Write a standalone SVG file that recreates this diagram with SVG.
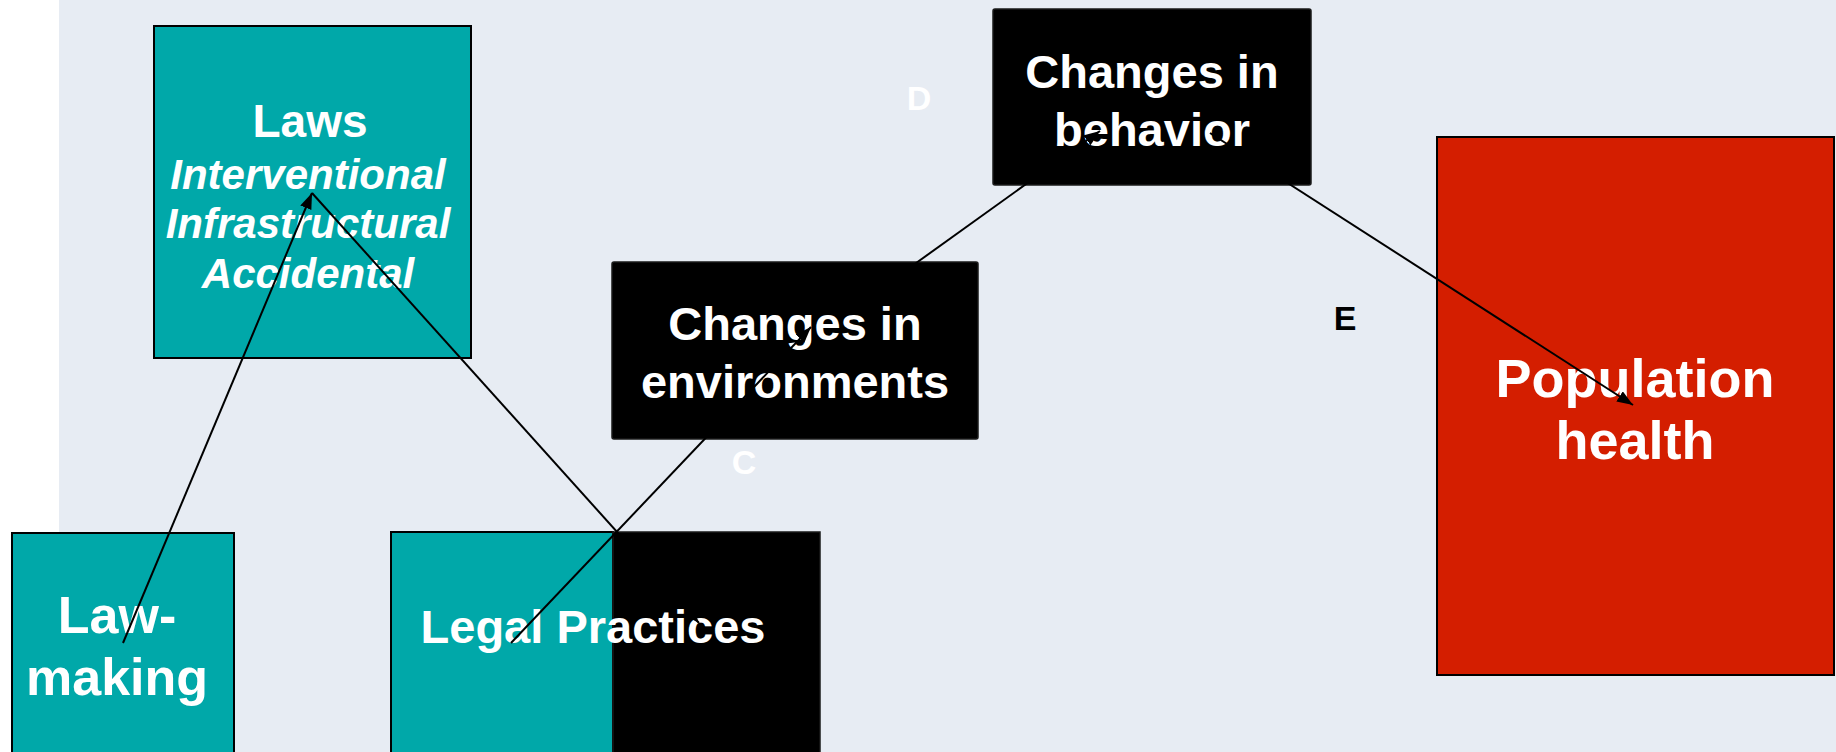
<svg xmlns="http://www.w3.org/2000/svg" width="1836" height="752" viewBox="0 0 1836 752">
<style>
.t{font-family:"Liberation Sans",Arial,sans-serif;font-weight:bold;fill:#fff;text-anchor:middle}
.it{font-style:italic}
.teal{fill:#00A8A9;stroke:#000;stroke-width:2}
.blk{fill:#000;stroke:#1a1a1a;stroke-width:1.5}
.red{fill:#D41E00;stroke:#000;stroke-width:2}
.conn{stroke:#000;stroke-width:2;fill:none}
.lbl{font-family:"Liberation Sans",Arial,sans-serif;font-weight:bold;font-size:34px;text-anchor:middle}
</style>
<defs>
<marker id="arr" markerUnits="userSpaceOnUse" markerWidth="18" markerHeight="14" refX="16" refY="6" orient="auto">
<path d="M0,0 L16,6 L0,12 z" fill="#000"/>
</marker>
</defs>
<rect x="0" y="0" width="1836" height="752" fill="#fff"/>
<rect x="59" y="0" width="1777" height="752" fill="#E7ECF3"/>

<g id="laws">
<rect class="teal" x="154" y="26" width="317" height="332"/>
<text class="t" x="310" y="137" font-size="46">Laws</text>
<text class="t it" x="308" y="189" font-size="42">Interventional</text>
<text class="t it" x="308" y="238" font-size="42">Infrastructural</text>
<text class="t it" x="308" y="288" font-size="42">Accidental</text>
</g>

<g id="lawmaking">
<rect class="teal" x="12" y="533" width="222" height="240"/>
<text class="t" x="117" y="633" font-size="52">Law-</text>
<text class="t" x="117" y="695" font-size="52">making</text>
</g>

<g id="legal-practices">
<rect class="teal" x="391" y="532" width="222" height="240"/>
<rect x="613" y="532" width="207" height="240" fill="#000" stroke="#1a1a1a" stroke-width="1.5"/>
<text class="t" x="593" y="643" font-size="47">Legal Practices</text>
</g>

<g id="environments">
<rect class="blk" x="612" y="262" width="366" height="177" rx="2"/>
<text class="t" x="795" y="340" font-size="47">Changes in</text>
<text class="t" x="795" y="398" font-size="47">environments</text>
</g>

<g id="behavior">
<rect class="blk" x="993" y="9" width="318" height="176" rx="2"/>
<text class="t" x="1152" y="88" font-size="47">Changes in</text>
<text class="t" x="1152" y="146" font-size="47">behavior</text>
</g>

<g id="population">
<rect class="red" x="1437" y="137" width="397" height="538"/>
<text class="t" x="1635" y="397" font-size="54">Population</text>
<text class="t" x="1635" y="459" font-size="54">health</text>
</g>

<g id="connectors">
<line class="conn" x1="123" y1="643" x2="312" y2="193" marker-end="url(#arr)"/>
<line class="conn" x1="312" y1="193" x2="699" y2="623" marker-end="url(#arr)"/>
<line class="conn" x1="511" y1="643" x2="811" y2="327" marker-end="url(#arr)"/>
<line class="conn" x1="905" y1="271" x2="1100" y2="131" marker-end="url(#arr)"/>
<line class="conn" x1="1210" y1="133" x2="1633" y2="405" marker-end="url(#arr)"/>
</g>

<g id="labels">
<text class="lbl" x="744" y="474" fill="#fff">C</text>
<text class="lbl" x="919" y="110" fill="#fff">D</text>
<text class="lbl" x="1345" y="330" fill="#000">E</text>
</g>
</svg>
